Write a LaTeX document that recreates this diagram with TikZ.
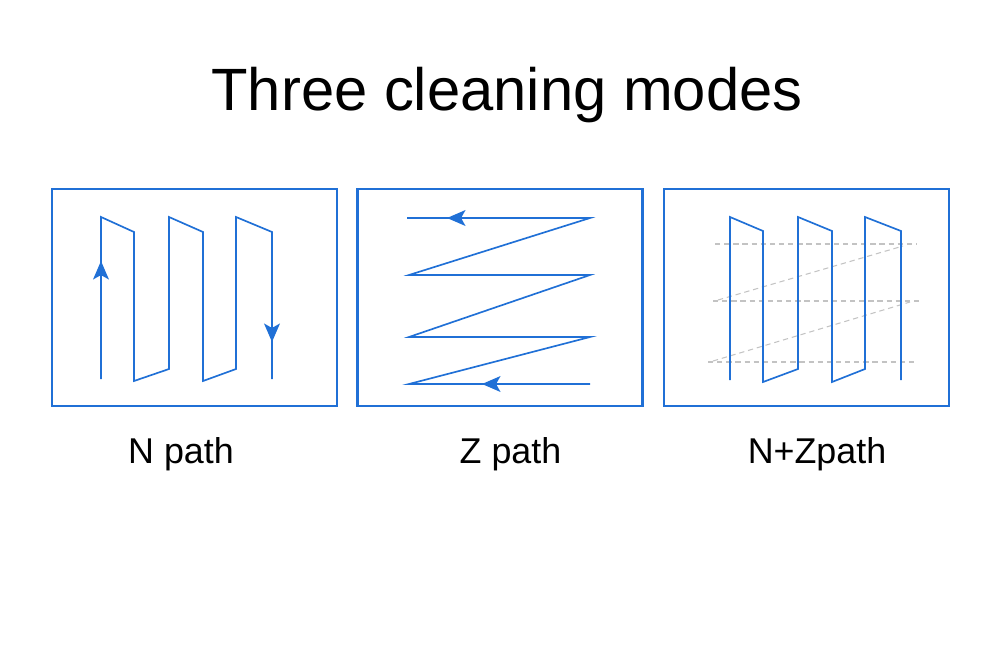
\documentclass[tikz,border=0pt]{standalone}
\usepackage{fontspec}
\setmainfont{Liberation Sans}
\usetikzlibrary{arrows.meta, positioning}
\definecolor{myblue}{RGB}{32,112,214}
\definecolor{mygrey}{RGB}{195,195,195}
\tikzset{
  panel/.style={rectangle, draw=myblue, line width=1.4pt, minimum width=5.7cm,
    minimum height=4.34cm, inner sep=0pt},
  route/.style={draw=myblue, line width=0.95pt, line join=miter},
  arrow/.style={-{Stealth[length=10.5pt, width=9pt, inset=2.5pt]}, draw=myblue, fill=myblue, line width=0.95pt},
  guide/.style={draw=mygrey, line width=0.6pt, dash pattern=on 3pt off 2.2pt},
  caption/.style={anchor=base, font=\fontsize{20.4pt}{24pt}\selectfont, inner sep=0pt}
}
\begin{document}
\begin{tikzpicture}[x=0.02cm, y=-0.02cm]
  \useasboundingbox (0,0) rectangle (1000,653);

  % Title
  \node[anchor=base, inner sep=0pt, font=\fontsize{34pt}{40pt}\selectfont] (title) at (507,110) {Three cleaning modes};

  % Panels
  \node[panel] (npanel) at (194.5,297.5) {};
  \node[panel] (zpanel) at (500,297.5) {};
  \node[panel] (nzpanel) at (806.5,297.5) {};

  % N path
  \draw[route] (101,379) -- (101,217) -- (134,232) -- (134,381) -- (169,369) -- (169,217)
    -- (203,232) -- (203,381) -- (236,369) -- (236,217) -- (272,232) -- (272,379);
  \draw[arrow] (101,290) -- (101,261);
  \draw[arrow] (272,313) -- (272,342);

  % Z path
  \draw[route] (590,384) -- (409,384) -- (590,337) -- (409,337) -- (590,275) -- (409,275)
    -- (590,218) -- (407,218);
  \draw[arrow] (510,384) -- (482,384);
  \draw[arrow] (475,218) -- (447,218);

  % N+Z path
  \draw[guide] (715,244) -- (917,244);
  \draw[guide] (713,301) -- (920,301);
  \draw[guide] (708,362) -- (915,362);
  \draw[guide] (718,300) -- (903,246);
  \draw[guide] (713,361) -- (910,302);
  \draw[route] (730,380) -- (730,217) -- (763,231) -- (763,382) -- (798,369) -- (798,217)
    -- (832,231) -- (832,382) -- (865,369) -- (865,217) -- (901,231) -- (901,380);

  % Captions
  \node[caption] (nlabel) at (181,463) {N path};
  \node[caption] (zlabel) at (510.5,463) {Z path};
  \node[caption] (nzlabel) at (817,463) {N+Zpath};
\end{tikzpicture}
\end{document}
